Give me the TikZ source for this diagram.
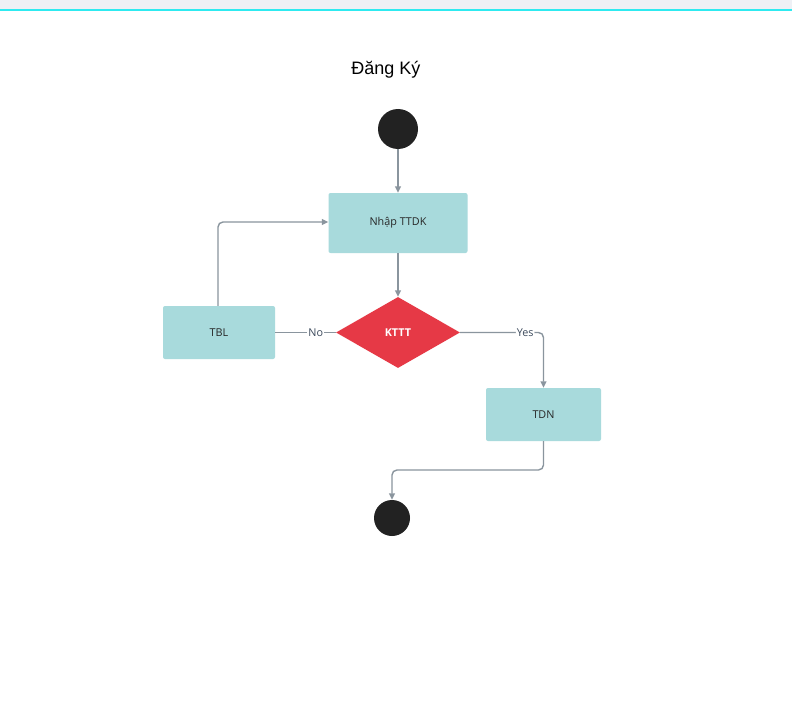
\documentclass[tikz,border=0pt]{standalone}
\usepackage{fontspec}
\setmainfont{Open Sans}
\newfontfamily\titlefont{Liberation Sans}
\usetikzlibrary{shapes.geometric,arrows.meta}
\definecolor{boxfill}{HTML}{A8DADC}
\definecolor{redfill}{HTML}{E63946}
\definecolor{dotfill}{HTML}{222222}
\definecolor{linecol}{HTML}{8A959E}
\definecolor{labcol}{HTML}{3C4A5C}
\definecolor{bandcol}{HTML}{EEF0F5}
\definecolor{cyanline}{HTML}{2EEAF0}
\begin{document}
\begin{tikzpicture}[x=1pt,y=-1pt,
  actbox/.style={rectangle, rounded corners=2pt, fill=boxfill, draw=none, font=\fontsize{10.8}{13}\selectfont, text=black!85},
  decis/.style={diamond, fill=redfill, draw=none, minimum width=124pt, minimum height=71pt, inner sep=0pt, aspect=1.75, font=\fontsize{10.8}{13}\selectfont\bfseries, text=white},
  dot/.style={circle, fill=dotfill, draw=none, inner sep=0pt},
  conn/.style={draw=linecol, line width=1.4pt, -{Triangle[length=6.5pt,width=6pt]}, rounded corners=5pt},
  plain/.style={draw=linecol, line width=1.4pt},
  lab/.style={fill=white, inner sep=1pt, font=\fontsize{10.8}{13}\selectfont, text=labcol}]
\useasboundingbox (0,0) rectangle (792,706);
\fill[white] (0,0) rectangle (792,706);
\fill[bandcol] (0,0) rectangle (792,9);
\fill[cyanline] (0,9) rectangle (792,11);
\node[font=\titlefont\fontsize{18}{20}\selectfont] (title) at (386,70) {Đăng Ký};
\node[dot, minimum size=40pt] (start) at (398,129) {};
\node[actbox, minimum width=139pt, minimum height=60pt] (nhap) at (398,223) {Nhập TTDK};
\node[decis] (kttt) at (398,332.5) {KTTT};
\node[actbox, minimum width=112pt, minimum height=53pt] (tbl) at (219,332.5) {TBL};
\node[actbox, minimum width=115pt, minimum height=53pt] (tdn) at (543.5,414.5) {TDN};
\node[dot, minimum size=36pt] (end) at (392,518) {};
\coordinate (c1) at (218,222);
\coordinate (c2) at (543.5,332.5);
\coordinate (c3) at (543.5,470);
\coordinate (c4) at (392,470);
\draw[conn] (start) -- (nhap);
\draw[conn] (nhap) -- (kttt);
\draw[conn] (tbl.north -| c1) -- (c1) -- (nhap.west |- c1);
\draw[plain] (tbl) -- node[lab, pos=0.67] (no) {No} (kttt);
\draw[conn] (kttt.east) -- node[lab, pos=0.78] (yes) {Yes} (c2) -- (tdn.north);
\draw[conn] (tdn.south) -- (c3) -- (c4) -- (end.north);
\end{tikzpicture}
\end{document}
